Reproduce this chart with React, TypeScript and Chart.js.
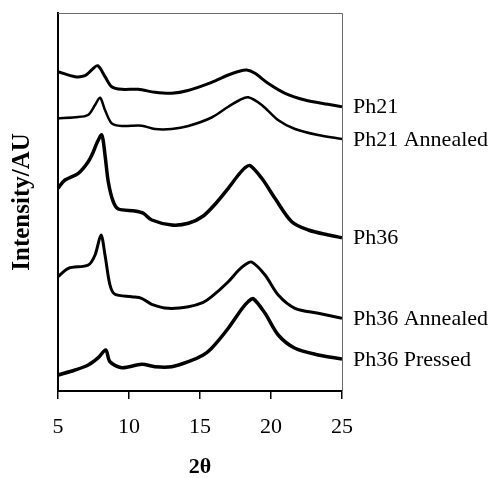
import React, { useEffect, useRef } from 'react';
import { Chart, registerables } from 'chart.js';

Chart.register(...registerables);

// 2θ tick values
const xTickValues = [5, 10, 15, 20, 25];
const seriesNames = ['Ph21', 'Ph21 Annealed', 'Ph36', 'Ph36 Annealed', 'Ph36 Pressed'];

// Ph21 (offset intensity, AU)
const ph21X = [5.0, 6.2, 6.9, 7.37, 7.8, 8.31, 8.78, 9.49, 10.65, 11.83, 13.01, 14.15, 15.82, 16.99, 17.7, 18.29, 18.87, 19.79, 20.99, 22.39, 24.01, 25.0];
const ph21Y = [319.3, 314.3, 315.3, 321, 325.3, 314.3, 304.3, 301.7, 301.7, 298.7, 297.7, 300.5, 308.7, 316, 319.5, 321, 317.7, 307.7, 297.7, 291, 286.7, 284.3];

// Ph21 Annealed
const ph21aX = [5.0, 6.2, 7.11, 7.61, 7.96, 8.31, 8.78, 9.49, 10.89, 11.83, 13.01, 14.18, 15.82, 16.99, 17.8, 18.4, 19.35, 20.49, 21.69, 23.31, 25.0];
const ph21aY = [272.7, 273.7, 276, 286, 293.3, 281, 267.7, 265, 265.3, 262, 262, 265, 273.5, 284.3, 291, 293.7, 286, 271, 262, 256, 252];

// Ph36
const ph36X = [5.0, 5.49, 6.43, 7.13, 7.49, 7.73, 8.08, 8.31, 8.54, 8.89, 9.25, 10.42, 11.01, 11.6, 13.01, 14.18, 15.23, 16.2, 16.99, 17.7, 18.15, 18.52, 19.35, 20.28, 21.46, 22.63, 24.04, 25.0];
const ph36Y = [202.7, 211, 217.7, 229.3, 239.3, 247.7, 256, 236, 209.3, 189.3, 182, 180, 177.7, 171, 166, 167.7, 175, 189, 202.7, 216, 223, 225.5, 212.7, 192.7, 169.3, 161, 156, 153.3];

// Ph36 Annealed
const ph36aX = [5.0, 5.73, 7.13, 7.61, 8.03, 8.31, 8.66, 9.01, 10.19, 10.89, 11.6, 12.77, 14.18, 15.23, 15.82, 16.99, 17.7, 18.2, 18.64, 19.58, 20.51, 21.69, 23.33, 25.0];
const ph36aY = [114.3, 122.7, 126, 136, 156, 136, 106, 96.7, 94.3, 92.7, 86.7, 82.7, 84.3, 88.7, 94.3, 109.3, 120.5, 126.5, 129, 116, 96, 82.7, 77.7, 72.7];

// Ph36 Pressed
const ph36pX = [5.0, 6.2, 7.13, 7.84, 8.36, 8.66, 9.49, 10.89, 11.83, 13.01, 14.18, 15.23, 15.82, 16.99, 17.94, 18.4, 18.75, 19.58, 20.51, 21.69, 23.33, 25.0];
const ph36pY = [16, 21, 26, 33.3, 41, 29.3, 23.3, 26.7, 24.3, 24.3, 29.3, 36, 42.7, 62.7, 82, 89.5, 92.3, 77.7, 56, 42.7, 36, 32];

const seriesX = [ph21X, ph21aX, ph36X, ph36aX, ph36pX];
const seriesY = [ph21Y, ph21aY, ph36Y, ph36aY, ph36pY];
const lineWidths = [3, 2.5, 3.5, 3, 3.5];

const SERIF = '"Liberation Serif", "Times New Roman", Times, serif';

const decorPlugin = {
  id: 'decor',
  afterDatasetsDraw(chart: any) {
    const { ctx, chartArea: a } = chart;
    ctx.save();
    ctx.strokeStyle = '#6a6a6a';
    ctx.lineWidth = 1;
    ctx.beginPath();
    ctx.moveTo(a.left, a.top + 0.5);
    ctx.lineTo(a.right + 0.5, a.top + 0.5);
    ctx.lineTo(a.right + 0.5, a.bottom);
    ctx.stroke();
    ctx.font = `22px ${SERIF}`;
    ctx.fillStyle = '#000';
    ctx.textAlign = 'left';
    ctx.textBaseline = 'middle';
    chart.data.datasets.forEach((ds: any, i: number) => {
      const meta = chart.getDatasetMeta(i);
      const last = meta.data[meta.data.length - 1];
      if (last) ctx.fillText(ds.label, a.right + 11, last.y + 1);
    });
    ctx.restore();
  },
};

export default function App() {
  const canvasRef = useRef<HTMLCanvasElement | null>(null);

  useEffect(() => {
    if (!canvasRef.current) return;
    const datasets = seriesNames.map((name, i) => ({
      label: name,
      data: seriesX[i].map((x, j) => ({ x, y: seriesY[i][j] })),
      borderColor: '#000',
      backgroundColor: '#000',
      borderWidth: lineWidths[i],
      pointRadius: 0,
      fill: false,
      tension: 0.3,
    }));

    const chart = new Chart(canvasRef.current, {
      type: 'line',
      data: { datasets },
      plugins: [decorPlugin],
      options: {
        animation: false,
        responsive: true,
        maintainAspectRatio: false,
        layout: { padding: { top: 13, right: 149, left: 0, bottom: 0 } },
        plugins: {
          legend: { display: false },
          tooltip: { enabled: false },
        },
        scales: {
          x: {
            type: 'linear',
            min: 5,
            max: 25,
            afterBuildTicks: (scale: any) => {
              scale.ticks = xTickValues.map((v) => ({ value: v }));
            },
            afterFit: (scale: any) => {
              scale.height = 87;
            },
            ticks: {
              color: '#000',
              font: { family: SERIF, size: 22 },
              padding: 15,
              maxRotation: 0,
              autoSkip: false,
            },
            grid: {
              display: true,
              drawOnChartArea: false,
              drawTicks: true,
              tickLength: 8,
              color: '#000',
              lineWidth: 1.5,
            },
            border: { display: true, color: '#000', width: 2 },
            title: {
              display: true,
              text: '2θ',
              color: '#000',
              font: { family: SERIF, size: 22, weight: 'bold', lineHeight: 1 },
              padding: 0,
            },
          },
          y: {
            type: 'linear',
            min: 0,
            max: 378,
            afterFit: (scale: any) => {
              scale.width = 58;
            },
            ticks: { display: false },
            grid: { display: false },
            border: { display: true, color: '#000', width: 2 },
            title: {
              display: true,
              text: 'Intensity/AU',
              color: '#000',
              font: { family: SERIF, size: 25, weight: 'bold', lineHeight: 1 },
              padding: { top: 10, bottom: 0 },
            },
          },
        },
      },
    });
    return () => chart.destroy();
  }, []);

  return (
    <div style={{ position: 'absolute', left: 0, top: 0, width: 491, height: 478, background: '#fff' }}>
      <canvas ref={canvasRef} />
    </div>
  );
}
